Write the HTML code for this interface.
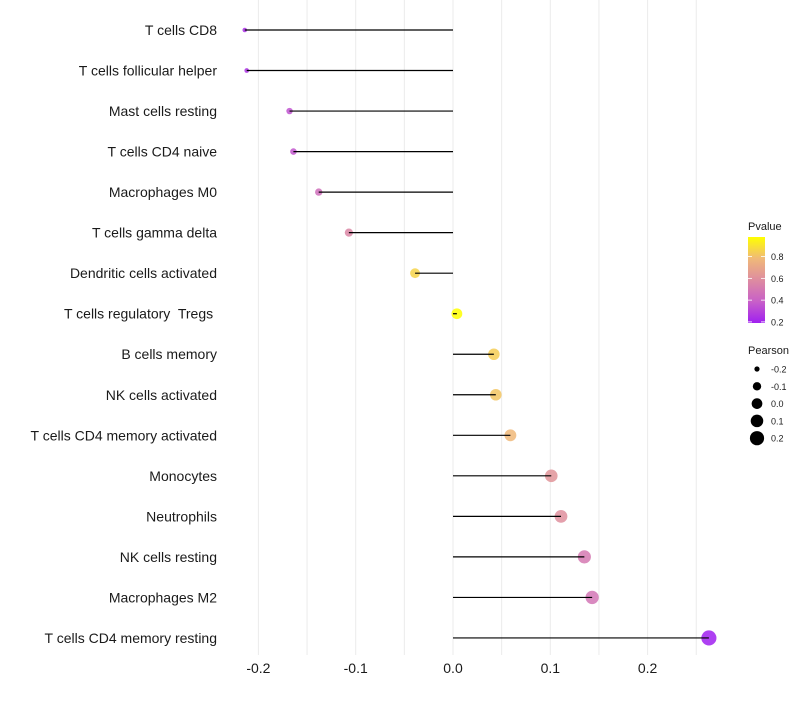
<!DOCTYPE html>
<html><head><meta charset="utf-8">
<style>
html,body{margin:0;padding:0;background:#fff;}
svg text{font-family:"Liberation Sans",Arial,sans-serif;white-space:pre;}
</style></head>
<body>
<svg id="chart" width="800" height="700" xmlns="http://www.w3.org/2000/svg">
<g id="grid"></g>
<g id="marks"></g>
<g id="ylabels"></g>
<g id="xlabels"></g>
<g id="legend"></g>
</svg>
<script>
const categories = ["T cells CD8","T cells follicular helper","Mast cells resting","T cells CD4 naive","Macrophages M0","T cells gamma delta","Dendritic cells activated","T cells regulatory  Tregs ","B cells memory","NK cells activated","T cells CD4 memory activated","Monocytes","Neutrophils","NK cells resting","Macrophages M2","T cells CD4 memory resting"];
const pearson = [-0.214,-0.212,-0.168,-0.164,-0.138,-0.107,-0.039,0.004,0.042,0.044,0.059,0.101,0.111,0.135,0.143,0.263];
const pvalue = [0.24,0.25,0.35,0.36,0.45,0.56,0.86,0.98,0.84,0.82,0.78,0.62,0.6,0.5,0.48,0.19];
const xTicks = [-0.2,-0.1,0.0,0.1,0.2];
const xTickLabels = ["-0.2","-0.1","0.0","0.1","0.2"];
const pTicks = [0.2,0.4,0.6,0.8];
const sizeTicks = [-0.2,-0.1,0.0,0.1,0.2];

const NS="http://www.w3.org/2000/svg";
const x = v => 453 + v*973;
const y = i => 30 + i*40.53;
const pMin=0.19,pMax=0.98;
const stops=[[0,[160,32,240]],[0.25,[200,96,200]],[0.5,[222,140,160]],[0.75,[240,185,120]],[1,[255,255,0]]];
function color(p){
  let t=Math.max(0,Math.min(1,(p-pMin)/(pMax-pMin)));
  for(let k=1;k<stops.length;k++){
    if(t<=stops[k][0]){
      const a=stops[k-1],b=stops[k],f=(t-a[0])/(b[0]-a[0]);
      const c=a[1].map((v,j)=>Math.round(v+(b[1][j]-v)*f));
      return `rgb(${c[0]},${c[1]},${c[2]})`;
    }
  }
  return "rgb(255,255,0)";
}
const sMin=-0.214,sMax=0.263;
const radius = v => Math.sqrt(5.3 + Math.max(0,(v-sMin)/(sMax-sMin))*52);
function el(tag,attrs,parent){const e=document.createElementNS(NS,tag);for(const k in attrs)e.setAttribute(k,attrs[k]);parent.appendChild(e);return e;}

const grid=document.getElementById('grid');
for(let g=-0.2;g<=0.2501;g+=0.05){
  const l=el('line',{x1:x(g),x2:x(g),y1:0,y2:655,stroke:'#ebebeb','stroke-width':1},grid);
  
  
}
const marks=document.getElementById('marks');
const yl=document.getElementById('ylabels');
categories.forEach((c,i)=>{
  const pt=el('circle',{cx:x(pearson[i]),cy:y(i),r:radius(pearson[i]),fill:color(pvalue[i]),'fill-opacity':0.85},marks);
  
  
  const s=el('line',{x1:x(0),x2:x(pearson[i]),y1:y(i),y2:y(i),stroke:'#000','stroke-width':1.2},marks);
  
  
  const t=el('text',{x:217,y:y(i)+5,'text-anchor':'end','font-size':14,fill:'#1a1a1a','xml:space':'preserve'},yl);
  t.textContent=c;
  
  
});
const xl=document.getElementById('xlabels');
xTicks.forEach((v,i)=>{
  const t=el('text',{x:x(v),y:673,'text-anchor':'middle','font-size':14,fill:'#1a1a1a'},xl);
  t.textContent=xTickLabels[i];
  
  
});
const lg=document.getElementById('legend');
const t1=el('text',{x:748,y:230,'font-size':11,fill:'#1a1a1a'},lg);t1.textContent='Pvalue';


const defs=el('defs',{},lg);
const grad=el('linearGradient',{id:'pg',x1:0,y1:1,x2:0,y2:0},defs);
stops.forEach(s=>el('stop',{offset:s[0],'stop-color':`rgb(${s[1].join(',')})`},grad));
const barTop=237,barBot=323;
const cb=el('rect',{x:748,y:barTop,width:17,height:barBot-barTop,fill:'url(#pg)'},lg);


const py = p => barBot - (p-pMin)/(pMax-pMin)*(barBot-barTop);
pTicks.forEach(p=>{
  el('line',{x1:748,x2:752,y1:py(p),y2:py(p),stroke:'#fff','stroke-width':0.8},lg);
  el('line',{x1:761,x2:765,y1:py(p),y2:py(p),stroke:'#fff','stroke-width':0.8},lg);
  const t=el('text',{x:771,y:py(p)+3.5,'font-size':9,fill:'#1a1a1a'},lg);t.textContent=p.toFixed(1);
  
  
});
const t2=el('text',{x:748,y:354,'font-size':11,fill:'#1a1a1a'},lg);t2.textContent='Pearson';


sizeTicks.forEach((v,i)=>{
  const cy=369+i*17.3;
  const c=el('circle',{cx:757,cy:cy,r:radius(v),fill:'#000'},lg);
  
  
  const t=el('text',{x:771,y:cy+3.5,'font-size':9,fill:'#1a1a1a'},lg);t.textContent=v.toFixed(1);
  
  
});
</script>
</body></html>
